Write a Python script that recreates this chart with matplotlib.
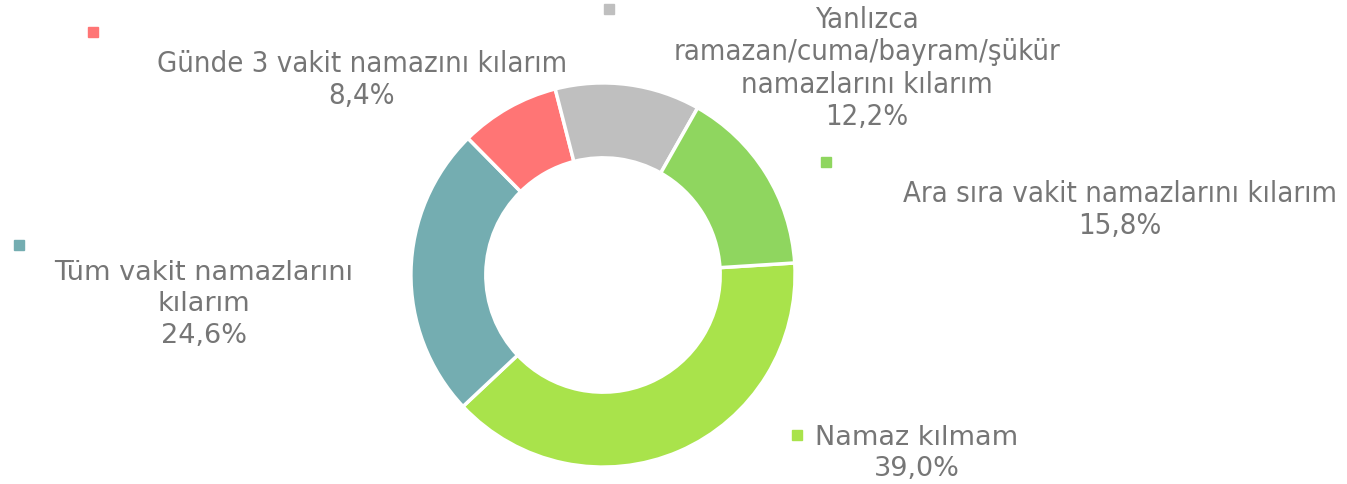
import matplotlib.pyplot as plt

# data
labels = ["Namaz kılmam", "Tüm vakit namazlarını\nkılarım", "Günde 3 vakit namazını kılarım",
          "Yanlızca\nramazan/cuma/bayram/şükür\nnamazlarını kılarım", "Ara sıra vakit namazlarını kılarım"]
values = [39.0, 24.6, 8.4, 12.2, 15.8]
colors = ["#A9E34B", "#74ADB1", "#FF7575", "#BFBFBF", "#8FD65F"]

# label layout in pixels: (marker x, marker y, text center x, text top y, condensed?)
label_pos = [
    (797, 436, 917, 425, False),
    (19, 246, 204, 260, False),
    (93, 33, 362, 50, True),
    (609, 10, 867, 6, True),
    (826, 163, 1120, 180, True),
]

W, H = 1347, 485
fig = plt.figure(figsize=(W / 100, H / 100), dpi=100)

cx, cy, r = 603, 276, 194
ax = fig.add_axes([(cx - r) / W, (H - cy - r) / H, 2 * r / W, 2 * r / H])
ax.pie(values, colors=colors, startangle=3.6, counterclock=False, radius=1,
       wedgeprops=dict(width=0.39, edgecolor="white", linewidth=2.5))
ax.set_xlim(-1.01, 1.01)
ax.set_ylim(-1.01, 1.01)
ax.axis("off")

ov = fig.add_axes([0, 0, 1, 1])
ov.set_xlim(0, W)
ov.set_ylim(H, 0)
ov.axis("off")
ov.patch.set_alpha(0)

for lab, v, c, (mx, my, tx, ty, cond) in zip(labels, values, colors, label_pos):
    ov.plot(mx, my, marker="s", ms=6.5, color=c, ls="none")
    txt = lab + "\n" + f"{v:.1f}%".replace(".", ",")
    if cond:
        ov.text(tx, ty, txt, ha="center", va="top", fontsize=21, color="#767676",
                family="DejaVu Sans", fontstretch="condensed", linespacing=1.2)
    else:
        ov.text(tx, ty, txt, ha="center", va="top", fontsize=19.5, color="#767676",
                family="DejaVu Sans", linespacing=1.27)

fig.savefig("out.png", dpi=100)
